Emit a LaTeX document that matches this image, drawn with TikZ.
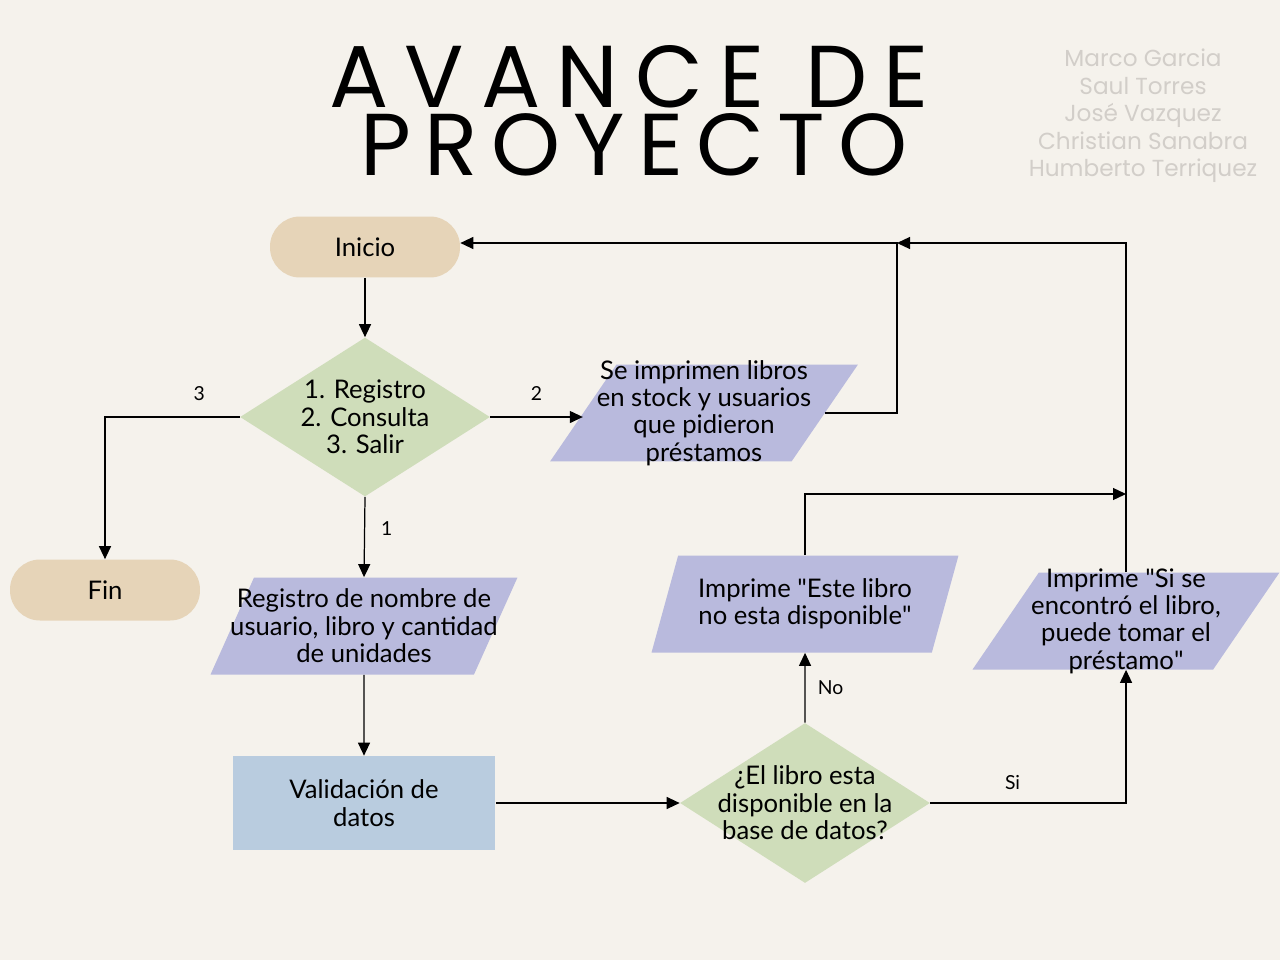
\documentclass[tikz,border=0pt]{standalone}
\usepackage{fontspec}
\setmainfont{Lato}
\newfontfamily\qfont{Lato}
\newfontfamily\titlefont[LetterSpace=19]{Poppins}
\newfontfamily\titlefontb[LetterSpace=15]{Poppins}
\newfontfamily\namefont{Poppins}
\usetikzlibrary{positioning, arrows.meta, shapes.geometric}
\definecolor{bgc}{HTML}{F5F2EC}
\definecolor{termc}{HTML}{E6D4B8}
\definecolor{decc}{HTML}{CFDDBA}
\definecolor{ioc}{HTML}{B9BADD}
\definecolor{procc}{HTML}{B9CCDF}
\definecolor{namec}{HTML}{D2CEC9}
\newcommand{\txt}{\fontsize{14.6}{15.6}\selectfont}
\newcommand{\qt}{{\qfont"}}
\tikzset{
  term/.style = {fill=termc, rounded corners=0.6cm, minimum width=3.8cm,
                 minimum height=1.22cm, inner sep=0pt, font=\txt},
  dec/.style  = {diamond, fill=decc, align=center, inner xsep=-1.2cm,
                 inner ysep=0pt, minimum width=5cm, minimum height=3.18cm, font=\txt},
  io/.style   = {trapezium, trapezium left angle=54, trapezium right angle=126,
                 trapezium stretches body, fill=ioc, align=center, inner xsep=-1.9cm,
                 inner ysep=-4pt, minimum width=6.16cm, minimum height=1.94cm, font=\txt},
  proc/.style = {rectangle, fill=procc, align=center, minimum width=5.26cm,
                 minimum height=1.88cm, inner sep=0pt, font=\txt},
  ar/.style   = {-{Triangle[length=2.6mm, width=2.4mm]}, line width=0.7pt},
  lbl/.style  = {font=\fontsize{11}{13}\selectfont, inner sep=1pt},
}

\begin{document}
\begin{tikzpicture}[x=0.02cm, y=-0.02cm]
  \fill[bgc] (0,0) rectangle (1280,960);
  \useasboundingbox (0,0) rectangle (1280,960);

  % titulo y autores
  \node[anchor=base, inner sep=0pt, font=\titlefont\fontsize{50}{50}\selectfont]
    (titulo1) at (629,107) {AVANCE DE};
  \node[anchor=base, inner sep=0pt, font=\titlefontb\fontsize{50}{50}\selectfont]
    (titulo2) at (634,175) {PROYECTO};
  \node (autores) at (1143,116) [align=center, text=namec, font=\namefont\fontsize{13.2}{15.6}\selectfont]
    {Marco Garcia\\Saul Torres\\José Vazquez\\Christian Sanabra\\Humberto Terriquez};

  % nodos
  \node[term] (inicio) at (365,247) {Inicio};
  \node[term] (fin) at (105,590) {Fin};
  \node[dec] (menu) at (365,417) {1. Registro\\2. Consulta\\3. Salir};
  \node[io] (stock) at (704,413) {Se imprimen libros\\en stock y usuarios\\que pidieron\\préstamos};
  \node[io, minimum width=6.14cm] (registro) at (364,626)
    {Registro de nombre de\\usuario, libro y cantidad\\de unidades};
  \node[proc] (valida) at (364,803) {Validación de\\datos};
  \node[dec, minimum height=3.2cm] (disp) at (805,803) {¿El libro esta\\disponible en la\\base de datos?};
  \node[io, minimum width=6.14cm] (nodisp) at (805,604) {Imprime \qt Este libro\\no esta disponible\qt};
  \node[io, minimum width=6.14cm] (sidisp) at (1126,621)
    {Imprime \qt Si se\\encontró el libro,\\puede tomar el\\préstamo\qt};

  \coordinate (j1) at (897,243);
  \coordinate (j2) at (1126,494);

  % conectores
  \draw[ar] (inicio) -- (menu);
  \draw[ar] (menu.south) -- node[lbl, right=8pt, pos=0.4] (l1) {1} (registro.north);
  \draw[ar] (menu.west) -| node[lbl, above=8pt, pos=0.15] (l3) {3} (fin.north);
  \draw[ar] (menu.east) -- node[lbl, above=8pt] (l2) {2} (menu.east -| stock.west);
  \draw[ar] (stock.east) -| (j1) -- (inicio.east |- j1);
  \draw[ar] (sidisp.north) |- (j1);
  \draw[ar] (nodisp.north) |- (j2);
  \draw[ar] (registro.south) -- (valida.north);
  \draw[ar] (valida.east) -- (disp.west);
  \draw[ar] (disp.north) -- node[lbl, right=6pt] (lno) {No} (nodisp.south);
  \draw[ar] (disp.east) -| node[lbl, above=6pt, pos=0.21] (lsi) {Si} (sidisp.south);
\end{tikzpicture}
\end{document}
